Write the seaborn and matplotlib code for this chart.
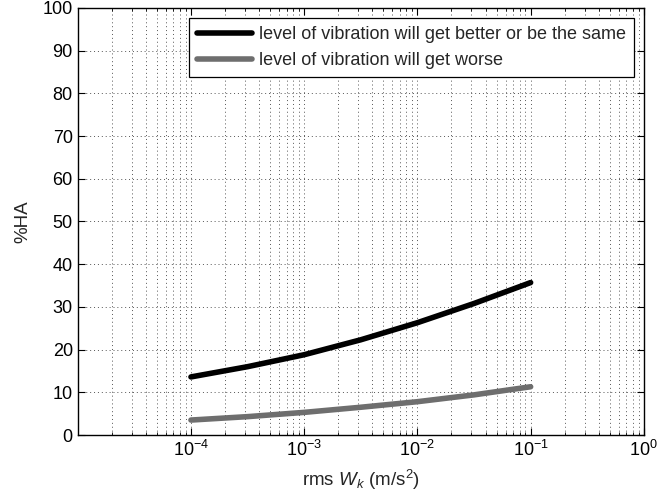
import numpy as np
import pandas as pd
import matplotlib
matplotlib.use("Agg")
import matplotlib.pyplot as plt
import seaborn as sns

# Data
rms_wk = [1e-4, 10**-3.5, 1e-3, 10**-2.5, 1e-2, 10**-1.5, 1e-1]
ha_better_same = [13.6, 16.0, 18.8, 22.3, 26.3, 30.8, 35.7]
ha_worse = [3.5, 4.3, 5.3, 6.5, 7.8, 9.4, 11.3]
series_labels = ["level of vibration will get better or be the same",
                 "level of vibration will get worse"]
xtick_vals = [1e-4, 1e-3, 1e-2, 1e-1, 1e0]
ytick_vals = list(range(0, 101, 10))

df = pd.DataFrame({
    "x": rms_wk * 2,
    "y": ha_better_same + ha_worse,
    "series": [series_labels[0]] * len(rms_wk) + [series_labels[1]] * len(rms_wk),
})

sns.set_style("ticks")
plt.rcParams['font.family'] = ['Liberation Sans', 'DejaVu Sans']
plt.rcParams['mathtext.fontset'] = 'custom'
plt.rcParams['mathtext.rm'] = 'Liberation Sans'
plt.rcParams['mathtext.it'] = 'Liberation Sans:italic'

fig = plt.figure(figsize=(6.7, 5.0), dpi=100)
ax = fig.add_axes([0.116, 0.13, 0.845, 0.854])

sns.lineplot(data=df, x="x", y="y", hue="series",
             palette={series_labels[0]: "#000000", series_labels[1]: "#6e6e6e"},
             linewidth=4, ax=ax, legend=True)

ax.set_xscale("log")
ax.set_xlim(1e-5, 1e0)
ax.set_ylim(0, 100)
ax.set_xticks(xtick_vals)
ax.set_yticks(ytick_vals)
ax.set_xticklabels([r"$10^{%d}$" % int(np.log10(v)) for v in xtick_vals])
ax.tick_params(axis="both", which="both", direction="in", top=True, right=True,
               labelsize=13, colors="black")
ax.tick_params(which="major", length=5, width=0.8)
ax.tick_params(which="minor", length=2.5, width=0.6)
ax.xaxis.set_minor_locator(matplotlib.ticker.LogLocator(base=10, subs=np.arange(2, 10), numticks=20))

ax.grid(True, which="major", axis="both", linestyle=(0, (1, 3)), color="#555555", linewidth=0.7)
ax.grid(True, which="minor", axis="x", linestyle=(0, (1, 3)), color="#555555", linewidth=0.7)

for s in ax.spines.values():
    s.set_visible(True)
    s.set_color("black")
    s.set_linewidth(1.0)

ax.set_xlabel(r"rms $W_k$ (m/s$^2$)", fontsize=13.5, labelpad=6)
ax.set_ylabel("%HA", fontsize=13.5, labelpad=8)

leg = ax.legend(loc="upper right", fontsize=13, frameon=True, fancybox=False,
                edgecolor="black", framealpha=1, borderpad=0.45, handlelength=3,
                handletextpad=0.4, labelspacing=0.5, borderaxespad=0.55)
leg.get_frame().set_linewidth(0.9)
for line in leg.get_lines():
    line.set_linewidth(4)

fig.savefig("out.png", dpi=100)
